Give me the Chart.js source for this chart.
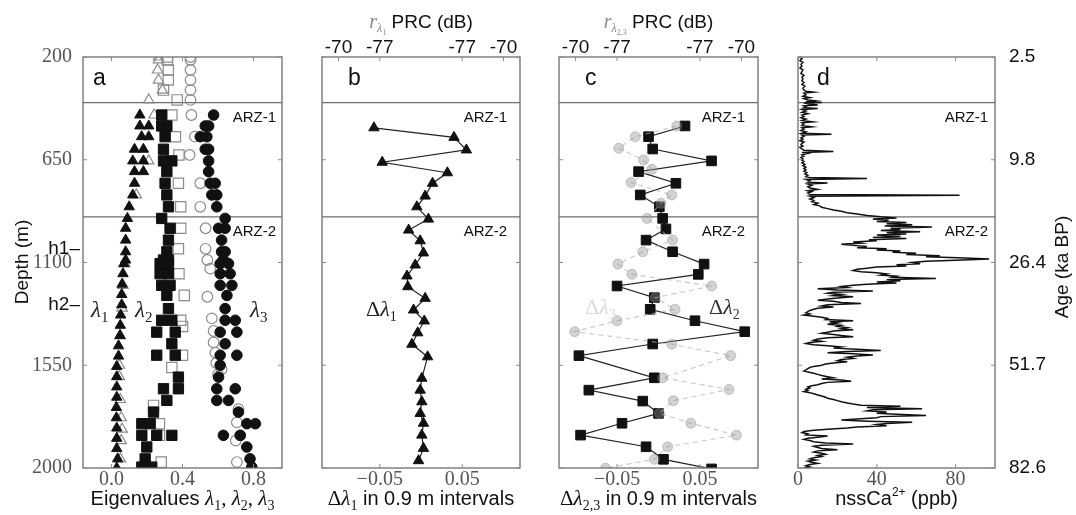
<!DOCTYPE html>
<html><head><meta charset="utf-8">
<script src="https://cdn.jsdelivr.net/npm/chart.js@4.4.0/dist/chart.umd.min.js"></script>
<style>
html,body{margin:0;padding:0;background:#fff;}
#wrap{position:relative;width:1076px;height:515px;overflow:hidden;background:#fff;}
canvas{position:absolute;left:0;top:0;}
</style></head><body>
<div id="wrap">
<canvas id="cA" width="1076" height="515"></canvas>
<canvas id="cB" width="1076" height="515"></canvas>
<canvas id="cC" width="1076" height="515"></canvas>
<canvas id="cD" width="1076" height="515"></canvas>
</div>
<script>
// ---------- shared axis data ----------
const depthTicks = [200, 650, 1100, 1550, 2000];
const depthLabels = ['200', '650', '1100', '1550', '2000'];
const ageLabels = ['2.5', '9.8', '26.4', '51.7', '82.6'];
const zoneDepths = [400, 900];
const zoneNames = ['ARZ-1', 'ARZ-2'];
const eigTicks = [0, 0.4, 0.8];
const eigLabels = ['0.0', '0.4', '0.8'];
const dTicks = [-0.05, 0.05];
const dLabels = ['\u22120.05', '0.05'];
const prcTicks = [-0.1, -0.05, 0.05, 0.1];
const prcLabels = ['-70', '-77', '-77', '-70'];
const caTicks = [0, 40, 80];
const caLabels = ['0', '40', '80'];

// ---------- panel a: eigenvalues ----------
const l1Depth = [454,502,502,549,549,604,604,655,655,702,702,753,804,856,907,950,1002,1053,1089,1105,1149,1195,1240,1285,1330,1375,1420,1465,1510,1555,1600,1645,1690,1735,1780,1825,1870,1915,1960,2000];
const l1Val = [0.16,0.16,0.21,0.17,0.21,0.13,0.18,0.12,0.18,0.13,0.18,0.13,0.12,0.10,0.09,0.08,0.08,0.08,0.08,0.07,0.065,0.06,0.058,0.058,0.052,0.05,0.048,0.04,0.04,0.03,0.03,0.03,0.03,0.028,0.028,0.03,0.03,0.03,0.035,0.03];
const l2Depth = [454,502,502,549,604,655,655,702,753,804,856,907,950,1002,1053,1089,1089,1105,1105,1149,1149,1200,1200,1244,1302,1353,1353,1405,1405,1456,1506,1506,1602,1653,1653,1704,1755,1806,1806,1857,1857,1857,1908,1960,1996,1996];
const l2Val = [0.283,0.283,0.312,0.302,0.293,0.293,0.34,0.312,0.302,0.312,0.321,0.283,0.33,0.321,0.312,0.293,0.321,0.274,0.321,0.274,0.321,0.283,0.33,0.312,0.321,0.283,0.34,0.255,0.359,0.34,0.255,0.359,0.377,0.293,0.377,0.312,0.237,0.171,0.218,0.171,0.255,0.34,0.199,0.19,0.171,0.227];
const l3Depth = [454,502,502,549,549,604,604,655,702,753,753,804,804,856,907,950,950,1002,1053,1053,1089,1105,1105,1149,1149,1200,1200,1244,1302,1353,1353,1405,1405,1456,1506,1506,1550,1602,1653,1653,1704,1704,1755,1806,1806,1857,1857,1908,1960,1996];
const l3Val = [0.575,0.528,0.547,0.50,0.537,0.528,0.547,0.547,0.547,0.556,0.584,0.565,0.593,0.593,0.64,0.603,0.64,0.62,0.62,0.64,0.63,0.612,0.659,0.612,0.668,0.612,0.678,0.65,0.64,0.64,0.697,0.612,0.706,0.64,0.612,0.706,0.612,0.603,0.593,0.697,0.593,0.659,0.715,0.762,0.81,0.63,0.725,0.762,0.78,0.79];
const o1Depth = [200,213,257,301,345,388,454,655,804,1105,1200,1300,1420,1550,1600,1700,1780,1830,1880,1960];
const o1Val = [0.265,0.265,0.26,0.265,0.287,0.21,0.24,0.21,0.14,0.075,0.065,0.06,0.05,0.045,0.045,0.05,0.055,0.06,0.055,0.05];
const o2Depth = [200,213,257,301,345,388,454,549,629,753,856,950,1040,1149,1244,1353,1380,1506,1560,1726,1806,1857,1974];
const o2Val = [0.315,0.315,0.32,0.32,0.293,0.37,0.34,0.36,0.38,0.377,0.39,0.39,0.377,0.38,0.41,0.39,0.40,0.40,0.34,0.237,0.27,0.27,0.28];
const o3Depth = [200,213,257,301,345,388,454,549,629,753,856,950,1040,1089,1127,1250,1345,1400,1450,1495,1540,1568,1590,1742,1800,1857,1880,1974];
const o3Val = [0.445,0.445,0.445,0.445,0.445,0.445,0.45,0.47,0.44,0.50,0.50,0.53,0.53,0.54,0.556,0.54,0.565,0.575,0.575,0.585,0.59,0.62,0.60,0.715,0.706,0.725,0.70,0.706];

// ---------- panel b: delta lambda1 ----------
const bDepth = [510,552,607,661,707,753,809,856,910,958,1005,1058,1111,1159,1206,1257,1308,1356,1408,1458,1513,1607,1659,1710,1761,1804,1856,1914,1968];
const bVal = [-0.057,0.040,0.055,-0.047,0.032,0.014,0.005,-0.005,0.009,-0.015,-0.001,0.003,-0.007,-0.017,-0.016,0.005,-0.009,0.004,-0.004,-0.011,0.008,0.001,-0.001,0.001,-0.001,0.003,0.001,0.003,-0.003];

// ---------- panel c: delta lambda2 / lambda3 ----------
const cDepth2 = [502,549,603,655,702,753,804,856,907,953,1002,1053,1107,1152,1203,1254,1305,1355,1403,1457,1508,1605,1659,1707,1761,1804,1856,1907,1962,2004];
const cVal2 = [0.032,-0.012,-0.007,0.064,-0.024,0.021,-0.022,0.001,0.005,0.009,-0.015,0.017,0.055,0.048,-0.050,-0.005,-0.010,0.044,0.104,-0.007,-0.096,-0.005,-0.084,-0.019,0.000,-0.044,-0.094,-0.015,0.006,0.064];
const cDepth3 = [502,549,600,651,692,750,804,841,907,1002,1053,1107,1152,1203,1254,1305,1355,1403,1458,1508,1605,1656,1705,1761,1804,1856,1907,1962,2001];
const cVal3 = [0.022,-0.028,-0.048,-0.018,-0.008,-0.033,0.016,0.003,-0.014,0.017,-0.019,-0.049,-0.032,0.064,-0.004,0.020,-0.050,-0.101,0.016,0.087,0.005,0.085,0.018,0.001,0.039,0.094,0.011,-0.005,-0.064];

// ---------- panel d: nssCa2+ ----------
const caDepth = [
 200,208,216,224,232,240,248,256,264,272,280,288,296,304,312,320,328,336,344,350,354,358,366,372,378,382,388,392,396,399,402,406,410,414,418,
 422,426,430,436,442,448,454,460,466,472,478,484,488,494,500,506,510,516,522,528,534,538,542,548,554,560,566,572,578,584,
 590,596,602,608,614,618,622,628,634,640,646,652,658,664,670,676,682,688,694,700,706,712,718,724,728,732,736,742,748,752,
 756,762,768,774,780,786,790,796,802,806,810,816,822,828,834,840,846,852,858,864,870,876,882,888,894,
 900,905,910,915,920,925,930,935,940,945,
 950,955,960,965,970,975,980,985,990,995,
 1000,1005,1010,1015,1020,1025,1030,1035,1040,1045,
 1050,1055,1060,1065,1070,1075,1080,1085,1090,1095,
 1100,1105,1110,1115,1120,1125,1130,1135,1140,1145,
 1150,1155,1160,1165,1170,1175,1180,1185,1190,1195,
 1200,1205,1210,1215,1220,1225,1230,1235,1240,1245,
 1250,1255,1260,1265,1270,1275,1280,1285,1290,1295,
 1300,1305,1310,1315,1320,1325,1330,1335,1340,1345,
 1350,1355,1360,1365,1370,1375,1380,1385,1390,1395,
 1400,1405,1410,1415,1420,1425,1430,1435,1440,1445,
 1450,1455,1460,1465,1470,1475,1480,1485,1490,1495,
 1500,1505,1510,1515,1520,1525,1530,1535,1540,1545,
 1550,1555,1560,1565,1570,1575,1580,1585,1590,1595,
 1600,1605,1610,1615,1620,1625,1630,1635,1640,1645,
 1650,1655,1660,1665,1670,1675,1680,1685,1690,1695,
 1700,1705,1710,1715,1720,1725,1730,1735,1740,1745,
 1750,1755,1760,1765,1770,1775,1780,1785,1790,1795,
 1800,1805,1810,1815,1820,1825,1830,1835,1840,1845,
 1850,1855,1860,1865,1870,1875,1880,1885,1890,1895,
 1900,1905,1910,1915,1920,1925,1930,1935,1940,1945,
 1950,1955,1960,1965,1970,1975,1980,1985,1990,1995,
 2000];
const caVal = [
 1,2,1,2.5,1.5,2,1,2.5,2,1.5,3,2,2.5,2,3,2,3.5,2.5,3,4,8,3,4,2.5,6,3,5,9,4,12,3,6,10,3,4,
 3,10,2,4,2,5,2,3,1.5,4,2,7.5,2,3,2,7,2,3,1.5,4,2,17,2,3,1.5,2.5,1,3,2,1.5,
 2.5,1,2,3,18,2,5,2,3,1.5,2.5,2,3,2,3.5,2.5,4,3,4,3,4.5,3.5,5,4,6,35,4,6,5,15,
 5,7,5,6,10,5,7,5,6,82,6,8,6,8,7,10,8,11,12,15,18,22,25,30,35,
 42,50,38,46,40,55,45,58,44,68,
 47,52,42,62,45,55,40,52,38,55,
 36,40,28,32,22,28,35,30,45,40,
 52,48,60,55,72,65,85,97,80,65,
 58,62,50,55,40,35,30,28,32,40,
 45,42,50,48,70,45,52,40,50,35,
 28,22,25,10,20,38,18,15,22,18,
 28,20,15,10,18,22,32,15,12,18,
 10,8,6,5,4,6,3,8,12,15,
 14,28,16,20,15,22,20,25,22,28,
 18,15,12,18,22,28,15,10,8,12,
 6,4,8,15,22,18,30,42,25,15,
 28,38,30,25,28,22,20,25,18,14,
 12,8,6,5,4,3,5,8,10,12,
 15,18,12,22,27,15,12,10,7,5,
 6,4,5,3,6,8,10,12,14,15,
 18,20,22,25,28,32,52,35,63,38,
 35,45,40,50,65,42,40,30,22,35,
 58,45,40,45,30,25,15,8,3,2,
 5,4,15,10,5,3,6,8,14,28,
 12,8,10,12,20,10,8,12,14,10,
 12,8,6,9,5,7,10,6,4,6,
 3];

// ---------- helpers ----------
const SANS = '"Liberation Sans", Arial, sans-serif';
const SERIF = '"Liberation Serif", "DejaVu Serif", serif';
const F = (px, fam, st) => (st ? st + ' ' : '') + px + 'px ' + fam;
const pts = (ds, vs) => ds.map((d, i) => ({x: vs[i], y: d}));
Chart.defaults.font.family = SANS;

function rich(ctx, segs, x, y, align, rot) {
  ctx.save();
  ctx.translate(x, y);
  if (rot) ctx.rotate(rot);
  let total = 0;
  segs.forEach(s => { ctx.font = s.f; s.w = ctx.measureText(s.t).width; total += s.w; });
  let cx = align === 'center' ? -total / 2 : (align === 'right' ? -total : 0);
  ctx.textAlign = 'left'; ctx.textBaseline = 'alphabetic';
  segs.forEach(s => { ctx.font = s.f; ctx.fillStyle = s.c || '#111'; ctx.fillText(s.t, cx, s.dy || 0); cx += s.w; });
  ctx.restore();
}
const lam = (sub, size, c) => [
  {t: '\u03bb', f: F(size, SERIF, 'italic'), c: c},
  {t: sub, f: F(Math.round(size * 0.65), SERIF), dy: Math.round(size * 0.22), c: c}
];

function seg(ctx, x1, y1, x2, y2) { ctx.beginPath(); ctx.moveTo(x1, y1); ctx.lineTo(x2, y2); ctx.stroke(); }

const decor = {
  id: 'decor',
  beforeDatasetsDraw(chart) {
    const {ctx, chartArea: a} = chart; const ys = chart.scales.y;
    ctx.save(); ctx.strokeStyle = '#6e6e6e'; ctx.lineWidth = 1.3;
    zoneDepths.forEach(d => { const p = ys.getPixelForValue(d); seg(ctx, a.left, p, a.right, p); });
    ctx.restore();
  },
  afterDraw(chart, args, o) {
    const {ctx, chartArea: a} = chart;
    const xs = chart.scales.x, ys = chart.scales.y, xt = chart.scales.x2;
    ctx.save();
    ctx.strokeStyle = '#6e6e6e'; ctx.lineWidth = 1.3;
    ctx.strokeRect(a.left, a.top, a.right - a.left, a.bottom - a.top);
    ctx.strokeStyle = '#8a8a8a'; ctx.lineWidth = 1;
    const L = 4;
    xs.ticks.forEach(t => { const p = xs.getPixelForValue(t.value); seg(ctx, p, a.bottom, p, a.bottom - L); if (!xt) seg(ctx, p, a.top, p, a.top + L); });
    if (xt) xt.ticks.forEach(t => { const p = xt.getPixelForValue(t.value); seg(ctx, p, a.top, p, a.top + L); });
    depthTicks.forEach(v => { const p = ys.getPixelForValue(v); seg(ctx, a.left, p, a.left + L, p); seg(ctx, a.right, p, a.right - L, p); });
    ctx.fillStyle = '#111'; ctx.textAlign = 'right'; ctx.textBaseline = 'alphabetic';
    ctx.font = F(15, SANS);
    zoneDepths.forEach((d, i) => ctx.fillText(zoneNames[i], a.right - o.arzInset, ys.getPixelForValue(d) + 19));
    ctx.font = F(23, SANS); ctx.textAlign = 'left';
    ctx.fillText(o.letter, a.left + o.letterInset, 85);
    ctx.restore();
    if (o.extra) o.extra(ctx, chart);
  }
};

function depthAxis(opts) {
  return Object.assign({
    type: 'linear', reverse: true, min: 200, max: 2000,
    grid: {display: false}, border: {display: false},
    afterBuildTicks: s => { s.ticks = depthTicks.map(v => ({value: v})); }
  }, opts);
}
function valAxis(min, max, tv, tl, extra) {
  return Object.assign({
    type: 'linear', position: 'bottom', min: min, max: max,
    grid: {display: false}, border: {display: false},
    afterBuildTicks: s => { s.ticks = tv.map(v => ({value: v})); },
    ticks: {autoSkip: false, maxRotation: 0, padding: -8, color: '#555', font: {family: SERIF, size: 20}, callback: (v, i) => tl[i]},
    afterFit: s => { s.height = 47; }
  }, extra || {});
}
function prcAxis(min, max) {
  return {
    type: 'linear', position: 'top', min: min, max: max,
    grid: {display: false}, border: {display: false},
    afterBuildTicks: s => { s.ticks = prcTicks.map(v => ({value: v})); },
    ticks: {autoSkip: false, maxRotation: 0, padding: -10, color: '#111', font: {family: SANS, size: 19}, callback: (v, i) => prcLabels[i]},
    afterFit: s => { s.height = 57; }
  };
}
const base = (pad) => ({
  responsive: false, animation: false,
  layout: {padding: pad},
  plugins: {legend: {display: false}, tooltip: {enabled: false}}
});

// ---------- chart a ----------
const ptFill = (style, r) => ({pointStyle: style, pointRadius: r, backgroundColor: '#111', borderColor: '#111', borderWidth: 1, showLine: false});
const ptOpen = (style, r) => ({pointStyle: style, pointRadius: r, backgroundColor: 'rgba(255,255,255,0)', borderColor: '#8c8c8c', borderWidth: 1.2, showLine: false});
const optA = base({left: 0, right: 1076 - 282, top: 57, bottom: 0});
optA.scales = {
  x: valAxis(-0.16, 0.96, eigTicks, eigLabels),
  y: depthAxis({position: 'left',
    ticks: {autoSkip: false, padding: 3, color: '#555', font: {family: SERIF, size: 20}, callback: (v, i) => depthLabels[i]},
    afterFit: s => { s.width = 83; }})
};
optA.plugins.decor = {letter: 'a', letterInset: 10, arzInset: 6, extra: (ctx) => {
  rich(ctx, [{t: 'Depth (m)', f: F(19, SANS)}], 28, 262, 'center', -Math.PI / 2);
  rich(ctx, [{t: 'Eigenvalues ', f: F(20, SANS)}].concat(lam('1', 21), [{t: ', ', f: F(21, SERIF)}], lam('2', 21), [{t: ', ', f: F(21, SERIF)}], lam('3', 21)), 182.5, 505, 'center');
  rich(ctx, [{t: 'h1\u2013', f: F(19, SANS)}], 80, 254, 'right');
  rich(ctx, [{t: 'h2\u2013', f: F(19, SANS)}], 80, 310, 'right');
  rich(ctx, lam('1', 23, '#222'), 91, 317, 'left');
  rich(ctx, lam('2', 23, '#222'), 135, 317, 'left');
  rich(ctx, lam('3', 23, '#222'), 250, 317, 'left');
}};
new Chart(document.getElementById('cA'), {
  type: 'scatter',
  data: {datasets: [
    Object.assign({data: pts(l1Depth, l1Val)}, ptFill('triangle', 6)),
    Object.assign({data: pts(l2Depth, l2Val)}, ptFill('rect', 7.3)),
    Object.assign({data: pts(l3Depth, l3Val)}, ptFill('circle', 5.3)),
    Object.assign({data: pts(o1Depth, o1Val)}, ptOpen('triangle', 6)),
    Object.assign({data: pts(o2Depth, o2Val)}, ptOpen('rect', 7.3)),
    Object.assign({data: pts(o3Depth, o3Val)}, ptOpen('circle', 5.3))
  ]},
  options: optA, plugins: [decor]
});

// ---------- chart b ----------
const optB = base({left: 322, right: 1076 - 520, top: 0, bottom: 0});
optB.scales = {
  x: valAxis(-0.12, 0.12, dTicks, dLabels),
  x2: prcAxis(-0.12, 0.12),
  y: depthAxis({position: 'left', ticks: {display: false}, afterFit: s => { s.width = 0; }})
};
optB.plugins.decor = {letter: 'b', letterInset: 26, arzInset: 13, extra: (ctx) => {
  rich(ctx, [{t: 'r', f: F(20, SERIF, 'italic'), c: '#8a8a8a'}, {t: '\u03bb', f: F(12, SERIF, 'italic'), dy: 4, c: '#8a8a8a'}, {t: '1', f: F(8, SERIF), dy: 7, c: '#8a8a8a'}, {t: ' PRC (dB)', f: F(19, SANS)}], 421, 28, 'center');
  rich(ctx, [{t: '\u0394', f: F(21, SERIF)}].concat(lam('1', 21), [{t: ' in 0.9 m intervals', f: F(20, SANS)}]), 421, 505, 'center');
  rich(ctx, [{t: '\u0394', f: F(22, SERIF), c: '#222'}].concat(lam('1', 22, '#222')), 366, 316, 'left');
}};
new Chart(document.getElementById('cB'), {
  type: 'scatter',
  data: {datasets: [{data: pts(bDepth, bVal), showLine: true, borderColor: '#222', borderWidth: 1.2,
    pointStyle: 'triangle', pointRadius: 6, pointBackgroundColor: '#111', pointBorderColor: '#111', pointBorderWidth: 1}]},
  options: optB, plugins: [decor]
});

// ---------- chart c ----------
const optC = base({left: 559, right: 1076 - 758, top: 0, bottom: 0});
optC.scales = {
  x: valAxis(-0.12, 0.12, dTicks, dLabels),
  x2: prcAxis(-0.12, 0.12),
  y: depthAxis({position: 'left', ticks: {display: false}, afterFit: s => { s.width = 0; }})
};
optC.plugins.decor = {letter: 'c', letterInset: 26, arzInset: 13, extra: (ctx) => {
  rich(ctx, [{t: 'r', f: F(20, SERIF, 'italic'), c: '#8a8a8a'}, {t: '\u03bb', f: F(12, SERIF, 'italic'), dy: 4, c: '#8a8a8a'}, {t: '2,3', f: F(8, SERIF), dy: 7, c: '#8a8a8a'}, {t: ' PRC (dB)', f: F(19, SANS)}], 658.5, 28, 'center');
  rich(ctx, [{t: '\u0394', f: F(21, SERIF)}].concat(lam('2,3', 21), [{t: ' in 0.9 m intervals', f: F(20, SANS)}]), 658.5, 505, 'center');
  rich(ctx, [{t: '\u0394', f: F(22, SERIF), c: '#dadada'}].concat(lam('3', 22, '#dadada')), 585, 314, 'left');
  rich(ctx, [{t: '\u0394', f: F(22, SERIF), c: '#333'}].concat(lam('2', 22, '#333')), 709, 314, 'left');
}};
new Chart(document.getElementById('cC'), {
  type: 'scatter',
  data: {datasets: [
    {data: pts(cDepth3, cVal3), showLine: true, borderColor: 'rgba(175,175,175,0.7)', borderWidth: 1.1, borderDash: [5, 4],
     pointStyle: 'circle', pointRadius: 5, pointBackgroundColor: 'rgba(145,145,145,0.4)', pointBorderColor: 'rgba(130,130,130,0.4)', pointBorderWidth: 1},
    {data: pts(cDepth2, cVal2), showLine: true, borderColor: '#222', borderWidth: 1.2,
     pointStyle: 'rect', pointRadius: 6.8, pointBackgroundColor: '#111', pointBorderColor: '#111', pointBorderWidth: 1}
  ]},
  options: optC, plugins: [decor]
});

// ---------- chart d ----------
const optD = base({left: 798, right: 0, top: 57, bottom: 0});
optD.scales = {
  x: valAxis(0, 100, caTicks, caLabels),
  y: depthAxis({position: 'right',
    ticks: {autoSkip: false, padding: 6, color: '#111', font: {family: SANS, size: 19}, callback: (v, i) => ageLabels[i]},
    afterFit: s => { s.width = 81; }})
};
optD.plugins.decor = {letter: 'd', letterInset: 19, arzInset: 7, extra: (ctx) => {
  rich(ctx, [{t: 'nssCa', f: F(20, SANS)}, {t: '2+', f: F(12, SANS), dy: -9}, {t: ' (ppb)', f: F(20, SANS)}], 896.5, 505, 'center');
  rich(ctx, [{t: 'Age (ka BP)', f: F(19, SANS)}], 1068, 267, 'center', -Math.PI / 2);
}};
new Chart(document.getElementById('cD'), {
  type: 'scatter',
  data: {datasets: [{data: pts(caDepth, caVal), showLine: true, borderColor: '#111', borderWidth: 1.5, pointRadius: 0}]},
  options: optD, plugins: [decor]
});
</script>
</body></html>
